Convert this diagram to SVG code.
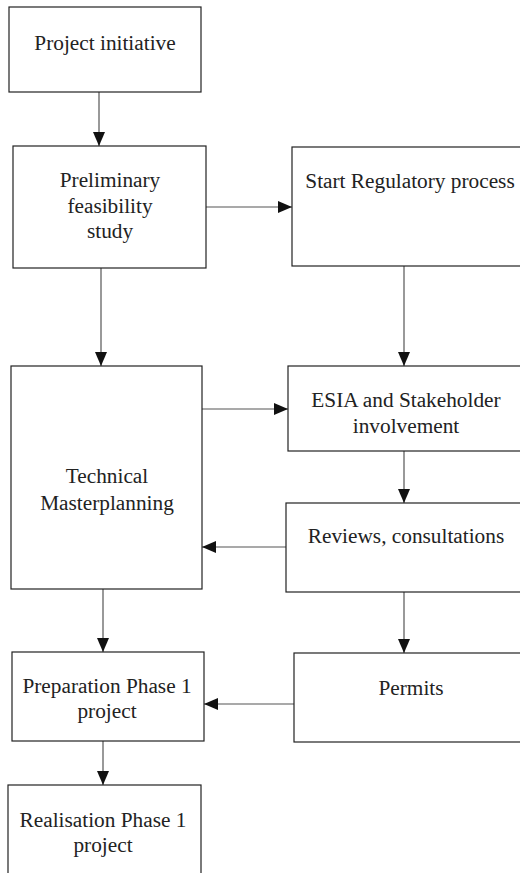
<svg xmlns="http://www.w3.org/2000/svg" width="520" height="873" viewBox="0 0 520 873">
<style>
.box{fill:#fff;stroke:#222;stroke-width:1.2}
.t{font-family:"Liberation Serif","Times New Roman",serif;font-size:21.3px;fill:#222;text-anchor:middle}
.c{fill:none;stroke:#555;stroke-width:1.2}
</style>
<defs>
<marker id="ah" markerUnits="userSpaceOnUse" markerWidth="14" markerHeight="12" refX="14" refY="6" orient="auto">
<path d="M0,0 L14,6 L0,12 Z" fill="#111"/>
</marker>
</defs>
<rect width="520" height="873" fill="#fff"/>
<g id="connectors">
<line class="c" x1="99" y1="92" x2="99" y2="146" marker-end="url(#ah)"/>
<line class="c" x1="206" y1="207" x2="292" y2="207" marker-end="url(#ah)"/>
<line class="c" x1="101" y1="268" x2="101" y2="366" marker-end="url(#ah)"/>
<line class="c" x1="404" y1="266" x2="404" y2="366" marker-end="url(#ah)"/>
<line class="c" x1="202" y1="409" x2="288" y2="409" marker-end="url(#ah)"/>
<line class="c" x1="404" y1="451" x2="404" y2="503" marker-end="url(#ah)"/>
<line class="c" x1="286" y1="547" x2="202" y2="547" marker-end="url(#ah)"/>
<line class="c" x1="404" y1="592" x2="404" y2="653" marker-end="url(#ah)"/>
<line class="c" x1="103" y1="589" x2="103" y2="652" marker-end="url(#ah)"/>
<line class="c" x1="294" y1="704" x2="204" y2="704" marker-end="url(#ah)"/>
<line class="c" x1="103" y1="741" x2="103" y2="785" marker-end="url(#ah)"/>
</g>
<g id="n1"><rect class="box" x="9" y="7" width="192" height="85"/><text class="t" x="105" y="50">Project initiative</text></g>
<g id="n2"><rect class="box" x="13" y="146" width="193" height="122"/><text class="t" x="110" y="187">Preliminary</text><text class="t" x="110" y="213">feasibility</text><text class="t" x="110" y="238">study</text></g>
<g id="n3"><rect class="box" x="292" y="147" width="236" height="119"/><text class="t" x="410" y="188">Start Regulatory process</text></g>
<g id="n4"><rect class="box" x="11" y="366" width="191" height="223"/><text class="t" x="107" y="483">Technical</text><text class="t" x="107" y="510">Masterplanning</text></g>
<g id="n5"><rect class="box" x="288" y="366" width="240" height="85"/><text class="t" x="406" y="407">ESIA and Stakeholder</text><text class="t" x="406" y="433">involvement</text></g>
<g id="n6"><rect class="box" x="286" y="503" width="242" height="89"/><text class="t" x="406" y="543">Reviews, consultations</text></g>
<g id="n7"><rect class="box" x="12" y="652" width="192" height="89"/><text class="t" x="107" y="693">Preparation Phase 1</text><text class="t" x="107" y="718">project</text></g>
<g id="n8"><rect class="box" x="294" y="653" width="235" height="89"/><text class="t" x="411" y="695">Permits</text></g>
<g id="n9"><rect class="box" x="8" y="785" width="193" height="100"/><text class="t" x="103" y="827">Realisation Phase 1</text><text class="t" x="103" y="852">project</text></g>
</svg>
